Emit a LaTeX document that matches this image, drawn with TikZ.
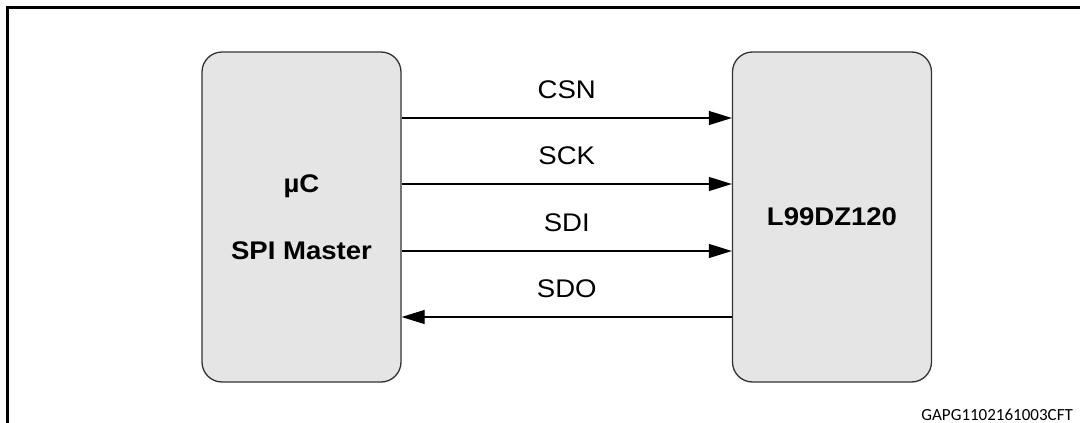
\documentclass[tikz,border=0pt]{standalone}
\usepackage{fontspec}
\setmainfont{Liberation Sans}[FakeStretch=1.08]
\newfontfamily\codefont{Carlito}
\usetikzlibrary{arrows.meta}
\definecolor{blkfill}{HTML}{E5E5E5}
\definecolor{blkedge}{HTML}{333333}

\begin{document}
\begin{tikzpicture}[x=1pt,y=-1pt,
    blk/.style={draw=blkedge,fill=blkfill,line width=1.3pt,rounded corners=20pt,minimum width=199pt,minimum height=330pt,inner sep=0pt},
    sig/.style={line width=1.1pt,-{Triangle[length=23pt,width=14pt]}},
    lbl/.style={font=\fontsize{25.5}{30}\selectfont,anchor=base,inner sep=0pt},
    tag/.style={font=\fontsize{25.5}{30}\selectfont\bfseries,anchor=base,inner sep=0pt}]
    \useasboundingbox (0,0) rectangle (1080,423);
    \draw[line width=2.5pt] (1090,7.5) -- (7.5,7.5) -- (7.5,433);
    \node[blk] (mcu) at (301.5,217) {};
    \node[blk] (dev) at (832,217) {};
    \node[tag] (mcuname) at (301.5,192) {µC};
    \node[tag] (mcurole) at (301.5,259) {SPI Master};
    \node[tag] (devname) at (832,225) {L99DZ120};
    \draw[sig] (mcu.east |- 0,118) -- node[lbl,yshift=19.5pt] (csn) {CSN} (dev.west |- 0,118);
    \draw[sig] (mcu.east |- 0,184) -- node[lbl,yshift=19.5pt] (sck) {SCK} (dev.west |- 0,184);
    \draw[sig] (mcu.east |- 0,251) -- node[lbl,yshift=19.5pt] (sdi) {SDI} (dev.west |- 0,251);
    \draw[sig] (dev.west |- 0,317) -- node[lbl,yshift=19.5pt] (sdo) {SDO} (mcu.east |- 0,317);
    \node[anchor=base east,inner sep=0pt,font=\codefont\fontsize{17}{20}\selectfont] (figid) at (1073,420) {GAPG1102161003CFT};
\end{tikzpicture}
\end{document}
